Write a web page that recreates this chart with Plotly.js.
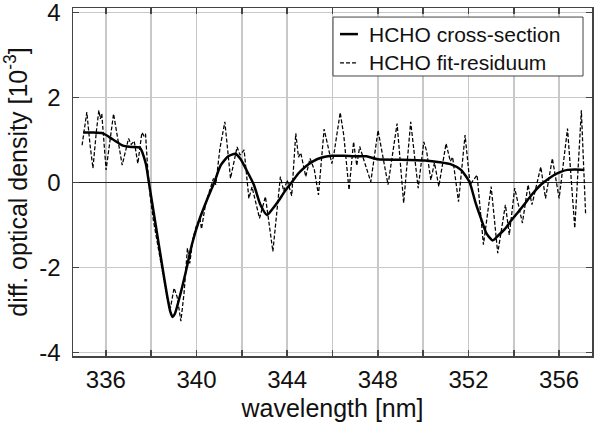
<!DOCTYPE html>
<html>
<head>
<meta charset="utf-8">
<script src="https://cdn.plot.ly/plotly-3.0.1.min.js"></script>
<style>html,body{margin:0;padding:0;background:#fff;}#chart{width:607px;height:425px;}</style>
</head>
<body>
<div id="chart"></div>
<script>
// HCHO cross-section (solid)
const crossWl = [335.0,335.4,335.87,336.3,336.75,337.1,337.5,337.76,337.9,338.2,338.5,338.7,338.85,338.94,339.05,339.3,339.53,339.8,340.1,340.45,340.78,341.07,341.4,341.72,341.95,342.16,342.53,342.82,343.11,343.35,343.63,343.9,344.22,344.5,344.79,345.1,345.53,345.97,346.5,347.0,347.5,348.0,349.0,350.07,350.73,351.23,351.67,352.04,352.3,352.55,352.8,353.07,353.3,353.59,353.86,354.15,354.45,354.8,355.19,355.5,355.78,356.1,356.37,356.7,357.1];
const crossVal = [1.18,1.18,1.16,1.02,0.87,0.84,0.82,0.45,0.0,-1.0,-2.0,-2.65,-3.05,-3.16,-3.08,-2.6,-2.09,-1.45,-0.91,-0.42,0.0,0.41,0.62,0.68,0.55,0.34,-0.05,-0.52,-0.76,-0.62,-0.42,-0.2,0.02,0.22,0.37,0.49,0.59,0.63,0.63,0.62,0.62,0.55,0.54,0.52,0.48,0.43,0.3,0.02,-0.45,-0.84,-1.2,-1.36,-1.25,-1.1,-0.91,-0.72,-0.52,-0.28,-0.05,0.08,0.18,0.26,0.30,0.31,0.30];
// HCHO fit-residuum (dashed)
const residWl = [334.95,335.16,335.3,335.43,335.58,335.69,335.76,335.82,336.01,336.34,336.72,337.0,337.12,337.25,337.41,337.59,337.68,337.75,337.85,337.95,338.1,338.3,338.5,338.7,338.85,339.01,339.15,339.31,339.45,339.6,339.7,339.85,340.0,340.15,340.22,340.4,340.6,340.75,340.85,341.03,341.25,341.5,341.79,341.92,342.1,342.31,342.45,342.78,343.04,343.37,343.7,343.85,344.0,344.2,344.38,344.5,344.6,344.82,345.01,345.2,345.38,345.63,345.97,346.05,346.34,346.5,346.73,346.93,347.07,347.2,347.42,347.69,348.01,348.45,348.85,349.14,349.45,349.78,350.03,350.15,350.34,350.5,350.69,351.01,351.2,351.3,351.56,351.85,352.07,352.38,352.66,353.0,353.29,353.63,353.8,354.04,354.38,354.63,354.8,355.19,355.4,355.7,356.0,356.37,356.69,356.98,357.17];
const residVal = [0.88,1.66,0.9,0.34,1.2,1.70,1.5,1.62,0.3,1.62,0.41,1.04,0.9,0.98,0.45,1.18,1.1,1.15,0.3,-0.3,-0.9,-1.5,-2.2,-2.7,-2.95,-2.48,-2.7,-3.26,-2.6,-1.54,-1.9,-1.3,-1.0,-0.84,-1.09,-0.5,-0.15,0.1,-0.05,0.8,1.43,0.1,0.84,0.65,0.77,-0.37,-0.1,-0.84,-0.33,-1.62,0.14,-0.2,0.06,-0.31,1.16,0.6,0.7,0.14,0.57,0.3,-0.29,1.26,0.45,0.63,1.65,1.1,-0.17,0.96,0.4,0.85,0.47,0.02,1.23,-0.05,1.39,-0.48,1.43,-0.13,0.96,0.75,0.06,0.47,-0.09,0.92,0.5,0.6,-0.45,1.12,-0.05,0.18,-1.46,-0.09,-1.66,-0.52,-1.23,-0.13,-0.95,-0.05,-0.52,0.37,-0.37,0.57,-0.37,1.27,-1.07,1.70,-0.76];

const seriesNames = ['HCHO cross-section', 'HCHO fit-residuum'];
const xTickVals = [336,340,344,348,352,356];
const xTickText = ['336','340','344','348','352','356'];
const yTickVals = [-4,-2,0,2,4];
const yTickText = ['-4','-2','0','2','4'];

const FONT = 'Liberation Sans, Arial, Helvetica, sans-serif';

const traces = [
  {x: crossWl, y: crossVal, mode: 'lines', name: seriesNames[0],
   line: {color: '#000', width: 2.5, shape: 'spline', smoothing: 0.6}},
  {x: residWl, y: residVal, mode: 'lines', name: seriesNames[1],
   line: {color: '#000', width: 1.25, dash: '4px,2px'}}
];

const axisCommon = {
  showline: true, linecolor: '#444', linewidth: 1.5, mirror: 'ticks',
  ticks: 'inside', ticklen: 6, tickwidth: 1.5, tickcolor: '#444',
  showgrid: true, gridcolor: '#c8c8c8', gridwidth: 1.5,
  ticklabeloverflow: 'allow',
  tickfont: {family: FONT, size: 24, color: '#111'}
};

// custom legend (paper coordinates)
const lgX0 = 0.501, lgX1 = 0.9827, lgY0 = 0.8046, lgY1 = 0.974;
const rowY = [0.925, 0.842];
const shapes = [
  {type: 'rect', xref: 'paper', yref: 'paper', x0: lgX0, x1: lgX1, y0: lgY0, y1: lgY1,
   fillcolor: '#fff', line: {color: '#444', width: 1}, layer: 'above'},
  {type: 'line', xref: 'paper', yref: 'paper', x0: 0.5145, x1: 0.549, y0: rowY[0], y1: rowY[0],
   line: {color: '#000', width: 2.5}, layer: 'above'},
  {type: 'line', xref: 'paper', yref: 'paper', x0: 0.5145, x1: 0.549, y0: rowY[1], y1: rowY[1],
   line: {color: '#000', width: 1.25, dash: '4px,2px'}, layer: 'above'}
];
const annotations = seriesNames.map((n, i) => ({
  xref: 'paper', yref: 'paper', x: 0.5665, y: rowY[i], xanchor: 'left', yanchor: 'middle',
  text: n, showarrow: false, font: {family: FONT, size: 21, color: '#111'}
}));

const layout = {
  width: 607, height: 425,
  margin: {l: 73, r: 15, t: 8, b: 69},
  paper_bgcolor: '#fff', plot_bgcolor: '#fff',
  font: {family: FONT, color: '#111'},
  showlegend: false,
  shapes: shapes,
  annotations: annotations,
  xaxis: Object.assign({}, axisCommon, {
    range: [334.55, 357.45], tickmode: 'array', tickvals: xTickVals, ticktext: xTickText,
    minor: {tick0: 334, dtick: 2, ticks: 'inside', ticklen: 6, tickwidth: 1.5, tickcolor: '#444',
            showgrid: true, gridcolor: '#c8c8c8', gridwidth: 1.5},
    zeroline: false, ticklabelstandoff: 2,
    title: {text: 'wavelength [nm]', font: {family: FONT, size: 25, color: '#111'}, standoff: 7}
  }),
  yaxis: Object.assign({}, axisCommon, {
    range: [-4.08, 4.11], tickmode: 'array', tickvals: yTickVals, ticktext: yTickText,
    zeroline: true, zerolinecolor: '#222', zerolinewidth: 1.5, ticklabelstandoff: 6,
    title: {text: 'diff. optical density [10<sup>-3</sup>]', font: {family: FONT, size: 25, color: '#111'}, standoff: 8}
  })
};

Plotly.newPlot('chart', traces, layout, {displayModeBar: false, staticPlot: true});
</script>
</body>
</html>
